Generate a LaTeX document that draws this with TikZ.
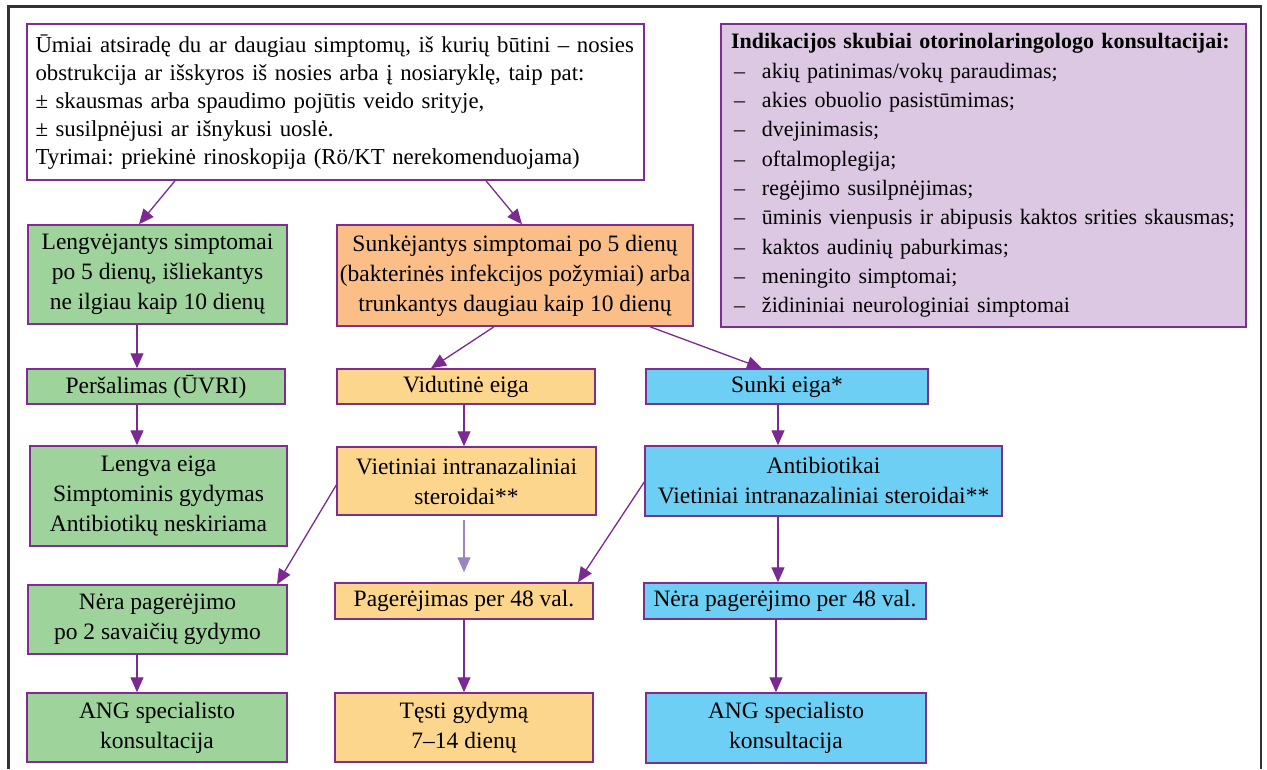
\documentclass[tikz,border=0pt]{standalone}
\usepackage{fontspec}
\setmainfont{Liberation Serif}
\usetikzlibrary{arrows.meta,calc}
\definecolor{bordc}{HTML}{7D2E8F}
\definecolor{arrc}{HTML}{7B2A92}
\definecolor{lightarr}{HTML}{9A86BE}
\definecolor{gfill}{HTML}{9ED39B}
\definecolor{ofill}{HTML}{FBBE87}
\definecolor{yfill}{HTML}{FDD68E}
\definecolor{bfill}{HTML}{6DCFF4}
\definecolor{pfill}{HTML}{DCC8E2}
\definecolor{framec}{HTML}{333333}
\tikzset{
  box/.style={draw=bordc, line width=1.5pt, inner sep=0pt, align=center,
    font=\fontsize{23.5}{30}\selectfont},
  gbox/.style={box, fill=gfill},
  obox/.style={box, fill=ofill},
  ybox/.style={box, fill=yfill},
  bbox/.style={box, fill=bfill},
  arr/.style={draw=arrc, line width=1.3pt, -{Triangle[length=15pt,width=13pt]}, arrc},
  larr/.style={draw=lightarr, line width=1.3pt, -{Triangle[length=15pt,width=13pt]}, lightarr},
}
\newcommand{\bx}[7]{% style,name,x1,y1,x2,y2,text
  \node[#1, minimum width={#5-#3}, minimum height={#6-#4}] (#2) at ({(#3+#5)/2},{(#4+#6)/2}) {#7};}
\newcommand{\itm}[1]{\mbox{\makebox[31pt][l]{\hspace{3pt}–}#1}}
\frenchspacing
\begin{document}
\begin{tikzpicture}[x=1pt,y=-1pt]
\useasboundingbox (0,0) rectangle (1267,769);
\fill[white] (0,0) rectangle (1267,769);
% outer frame
\draw[framec, line width=2.2pt] (8.5,769) -- (8.5,6.5) -- (1261,6.5) -- (1261,769);

% top box
\node[box, fill=white, align=left, minimum width=617, minimum height=156, text width=600,
  font=\fontsize{22.8}{28}\selectfont] (top) at (335.5,102)
  {\mbox{Ūmiai atsiradę du ar daugiau simptomų, iš kurių būtini – nosies}\\
   \mbox{obstrukcija ar išskyros iš nosies arba į nosiaryklę, taip pat:}\\
   ± skausmas arba spaudimo pojūtis veido srityje,\\
   ± susilpnėjusi ar išnykusi uoslė.\\
   \mbox{Tyrimai: priekinė rinoskopija (Rö/KT nerekomenduojama)}};

% right box
\node[box, fill=pfill, align=left, minimum width=525, minimum height=303, text width=505,
  font=\fontsize{22}{29.3}\selectfont] (ind) at (983.5,175.5)
  {\mbox{\textbf{Indikacijos skubiai otorinolaringologo konsultacijai:}}\\
   \itm{akių patinimas/vokų paraudimas;}\\
   \itm{akies obuolio pasistūmimas;}\\
   \itm{dvejinimasis;}\\
   \itm{oftalmoplegija;}\\
   \itm{regėjimo susilpnėjimas;}\\
   \itm{ūminis vienpusis ir abipusis kaktos srities skausmas;}\\
   \itm{kaktos audinių paburkimas;}\\
   \itm{meningito simptomai;}\\
   \itm{židininiai neurologiniai simptomai}};

\bx{gbox}{g1}{28}{225}{287}{324}{Lengvėjantys simptomai\\po 5 dienų, išliekantys\\ne ilgiau kaip 10 dienų}
\bx{obox}{o1}{337}{225}{693}{326}{Sunkėjantys simptomai po 5 dienų\\(bakterinės infekcijos požymiai) arba\\trunkantys daugiau kaip 10 dienų}
\bx{gbox}{g2}{27}{369}{285}{404}{Peršalimas (ŪVRI)}
\bx{ybox}{y2}{337}{369}{595}{404}{Vidutinė eiga}
\bx{bbox}{b2}{646}{369}{928}{404}{Sunki eiga*}
\bx{gbox}{g3}{30}{446}{287}{546}{Lengva eiga\\Simptominis gydymas\\Antibiotikų neskiriama}
\bx{ybox}{y3}{337}{447}{596}{515}{Vietiniai intranazaliniai\\steroidai**}
\bx{bbox}{b3}{645}{446}{1002}{516}{Antibiotikai\\Vietiniai intranazaliniai steroidai**}
\bx{gbox}{g4}{28}{585}{287}{654}{Nėra pagerėjimo\\po 2 savaičių gydymo}
\bx{ybox}{y4}{335}{583}{593}{619}{Pagerėjimas per 48 val.}
\bx{bbox}{b4}{644}{583}{926}{619}{Nėra pagerėjimo per 48 val.}
\bx{gbox}{g5}{27}{693}{287}{762}{ANG specialisto\\konsultacija}
\bx{ybox}{y5}{335}{693}{593}{762}{Tęsti gydymą\\7–14 dienų}
\bx{bbox}{b5}{646}{693}{926}{763}{ANG specialisto\\konsultacija}

% connectors
\draw[arr] ([xshift=-160.5pt]top.south) -- ([xshift=-18.5pt]g1.north);
\draw[arr] ([xshift=150.5pt]top.south) -- ([xshift=7pt]o1.north);
\draw[arr] ([xshift=-20.5pt]g1.south) -- ([xshift=-19pt]g2.north);
\draw[arr] ([xshift=-21pt]o1.south) -- ([xshift=-35pt]y2.north);
\draw[arr] ([xshift=135pt]o1.south) -- ([xshift=-25pt]b2.north);
\draw[arr] ([xshift=-19pt]g2.south) -- ([xshift=-21.5pt]g3.north);
\draw[arr] ([xshift=-2pt]y2.south) -- ([xshift=-2.5pt]y3.north);
\draw[arr] ([xshift=-9pt]b2.south) -- ([xshift=-45.5pt]b3.north);
\draw[arr] ([yshift=-4pt]y3.west) -- ([xshift=119.5pt]g4.north);
\draw[larr] ([yshift=-4pt]y3.south -| y4.north) -- ([yshift=10pt]y4.north);
\draw[arr] ([yshift=-1pt]b3.west) -- ([xshift=114pt]y4.north);
\draw[arr] ([xshift=-45.5pt]b3.south) -- ([xshift=-7pt]b4.north);
\draw[arr] ([xshift=-20.5pt]g4.south) -- ([xshift=-20pt]g5.north);
\draw[arr] ([xshift=0pt]y4.south) -- ([xshift=0pt]y5.north);
\draw[arr] ([xshift=-9pt]b4.south) -- ([xshift=-10pt]b5.north);
\end{tikzpicture}
\end{document}
